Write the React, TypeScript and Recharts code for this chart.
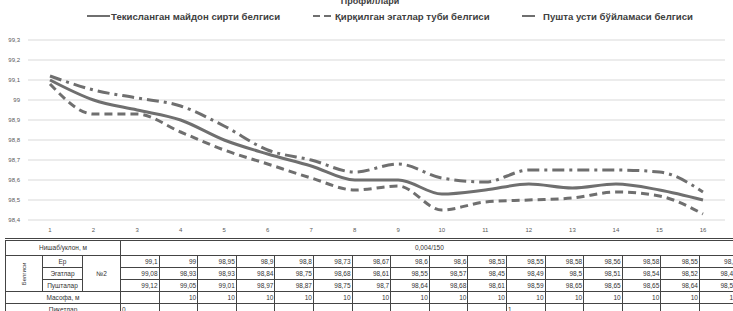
import React from "react";
import { LineChart, Line, XAxis, YAxis, CartesianGrid, Legend } from "recharts";

// пикетлар / nuqtalar
const points = [1, 2, 3, 4, 5, 6, 7, 8, 9, 10, 11, 12, 13, 14, 15, 16];
// Ер (текисланган майдон сирти)
const yer = [99.1, 99, 98.95, 98.9, 98.8, 98.73, 98.67, 98.6, 98.6, 98.53, 98.55, 98.58, 98.56, 98.58, 98.55, 98.5];
// Эгатлар туби
const egatlar = [99.08, 98.93, 98.93, 98.84, 98.75, 98.68, 98.61, 98.55, 98.57, 98.45, 98.49, 98.5, 98.51, 98.54, 98.52, 98.43];
// Пушталар усти
const pushtalar = [99.12, 99.05, 99.01, 98.97, 98.87, 98.75, 98.7, 98.64, 98.68, 98.61, 98.59, 98.65, 98.65, 98.65, 98.64, 98.54];
// масофа, м
const masofa = [null, 10, 10, 10, 10, 10, 10, 10, 10, 10, 10, 10, 10, 10, 10, 10];
const piketlar = ["0", "", "", "", "", "", "", "", "", "", "1", "", "", "", "", ""];
const yTicks = [98.4, 98.5, 98.6, 98.7, 98.8, 98.9, 99, 99.1, 99.2, 99.3];

const seriesNames = {
  yer: "Текисланган майдон сирти белгиси",
  egatlar: "Қирқилган эгатлар туби белгиси",
  pushtalar: "Пушта усти бўйламаси белгиси",
};

const data = points.map((p, i) => ({
  n: p,
  yer: yer[i],
  egatlar: egatlar[i],
  pushtalar: pushtalar[i],
}));

const fmt = (v: number) => String(v).replace(".", ",");

const LINE = "#6f6f6f";
const font = "'Liberation Sans', Arial, sans-serif";
const COL = 38.6;

function LegendBox() {
  const item = (x: number, dash: string | undefined, w: number, gap: number, label: string) => (
    <span
      style={{
        position: "absolute",
        left: x,
        top: 0,
        display: "inline-flex",
        alignItems: "center",
        height: 12,
      }}
    >
      <svg width={w} height={6} style={{ marginRight: gap }}>
        <line x1={0} y1={3} x2={w} y2={3} stroke={LINE} strokeWidth={2} strokeDasharray={dash} />
      </svg>
      <span>{label}</span>
    </span>
  );
  return (
    <div
      style={{
        position: "relative",
        width: 733,
        height: 12,
        fontFamily: font,
        fontSize: 9.6,
        fontWeight: "bold",
        color: "#404040",
        whiteSpace: "nowrap",
      }}
    >
      {item(87, undefined, 23, 1, seriesNames.yer)}
      {item(313, "7 4", 20, 2, seriesNames.egatlar)}
      {item(522, undefined, 13, 8, seriesNames.pushtalar)}
    </div>
  );
}

const cell: React.CSSProperties = {
  border: "1px solid #444",
  padding: "0 1px",
  height: 11,
  lineHeight: "10px",
  textAlign: "right",
  overflow: "hidden",
  whiteSpace: "nowrap",
};

export default function App() {
  return (
    <div
      style={{
        position: "absolute",
        left: 0,
        top: 0,
        width: 733,
        height: 311,
        overflow: "hidden",
        background: "#fff",
        fontFamily: font,
      }}
    >
      <div
        style={{
          position: "absolute",
          top: -4,
          left: 0,
          width: 740,
          textAlign: "center",
          fontSize: 9,
          fontWeight: "bold",
          color: "#404040",
        }}
      >
        Профиллари
      </div>
      <LineChart width={733} height={234} data={data} margin={{ top: 28, right: 8, bottom: 0, left: 0 }}>
        <Legend
          verticalAlign="top"
          height={12}
          wrapperStyle={{ top: 10, left: 0, width: 733 }}
          content={() => <LegendBox />}
        />
        <CartesianGrid vertical={false} stroke="#d9d9d9" />
        <XAxis
          dataKey="n"
          padding={{ left: 22, right: 22 }}
          axisLine={false}
          tickLine={false}
          height={14}
          tick={{ fontSize: 6, fill: "#595959", fontFamily: font }}
        />
        <YAxis
          domain={[98.4, 99.3]}
          ticks={yTicks}
          interval={0}
          tickFormatter={fmt}
          axisLine={false}
          tickLine={false}
          width={28}
          tick={{ fontSize: 6, fill: "#595959", fontFamily: font }}
        />
        <Line
          type="monotone"
          dataKey="yer"
          name={seriesNames.yer}
          stroke={LINE}
          strokeWidth={3}
          dot={false}
          isAnimationActive={false}
        />
        <Line
          type="monotone"
          dataKey="egatlar"
          name={seriesNames.egatlar}
          stroke={LINE}
          strokeWidth={3}
          strokeDasharray="8 5"
          dot={false}
          isAnimationActive={false}
        />
        <Line
          type="monotone"
          dataKey="pushtalar"
          name={seriesNames.pushtalar}
          stroke={LINE}
          strokeWidth={3}
          strokeDasharray="12 5 3 5"
          dot={false}
          isAnimationActive={false}
        />
      </LineChart>
      <table
        style={{
          position: "absolute",
          top: 238,
          left: 5,
          borderCollapse: "collapse",
          tableLayout: "fixed",
          width: 115 + COL * 16,
          fontSize: 6.5,
          color: "#333",
          borderTop: "3px double #444",
        }}
      >
        <colgroup>
          <col style={{ width: 37 }} />
          <col style={{ width: 40 }} />
          <col style={{ width: 38 }} />
          {points.map((p) => (
            <col key={p} style={{ width: COL }} />
          ))}
        </colgroup>
        <tbody>
          <tr>
            <td colSpan={3} style={{ ...cell, height: 14, textAlign: "center" }}>
              Нишаб/уклон, м
            </td>
            <td colSpan={16} style={{ ...cell, height: 14, textAlign: "center" }}>
              0,004/150
            </td>
          </tr>
          <tr>
            <td rowSpan={3} style={{ ...cell, textAlign: "center" }}>
              <div style={{ transform: "rotate(-90deg)", fontSize: 6 }}>Белгиси</div>
            </td>
            <td style={{ ...cell, textAlign: "center" }}>Ер</td>
            <td rowSpan={3} style={{ ...cell, textAlign: "center" }}>
              №2
            </td>
            {yer.map((v, i) => (
              <td key={i} style={cell}>
                {fmt(v)}
              </td>
            ))}
          </tr>
          <tr>
            <td style={{ ...cell, textAlign: "center" }}>Эгатлар</td>
            {egatlar.map((v, i) => (
              <td key={i} style={cell}>
                {fmt(v)}
              </td>
            ))}
          </tr>
          <tr>
            <td style={{ ...cell, textAlign: "center" }}>Пушталар</td>
            {pushtalar.map((v, i) => (
              <td key={i} style={cell}>
                {fmt(v)}
              </td>
            ))}
          </tr>
          <tr>
            <td colSpan={3} style={{ ...cell, textAlign: "center" }}>
              Масофа, м
            </td>
            {masofa.map((v, i) => (
              <td key={i} style={cell}>
                {v ?? ""}
              </td>
            ))}
          </tr>
          <tr>
            <td colSpan={3} style={{ ...cell, textAlign: "center" }}>
              Пикетлар
            </td>
            {piketlar.map((v, i) => (
              <td key={i} style={{ ...cell, textAlign: "left" }}>
                {v}
              </td>
            ))}
          </tr>
        </tbody>
      </table>
    </div>
  );
}
